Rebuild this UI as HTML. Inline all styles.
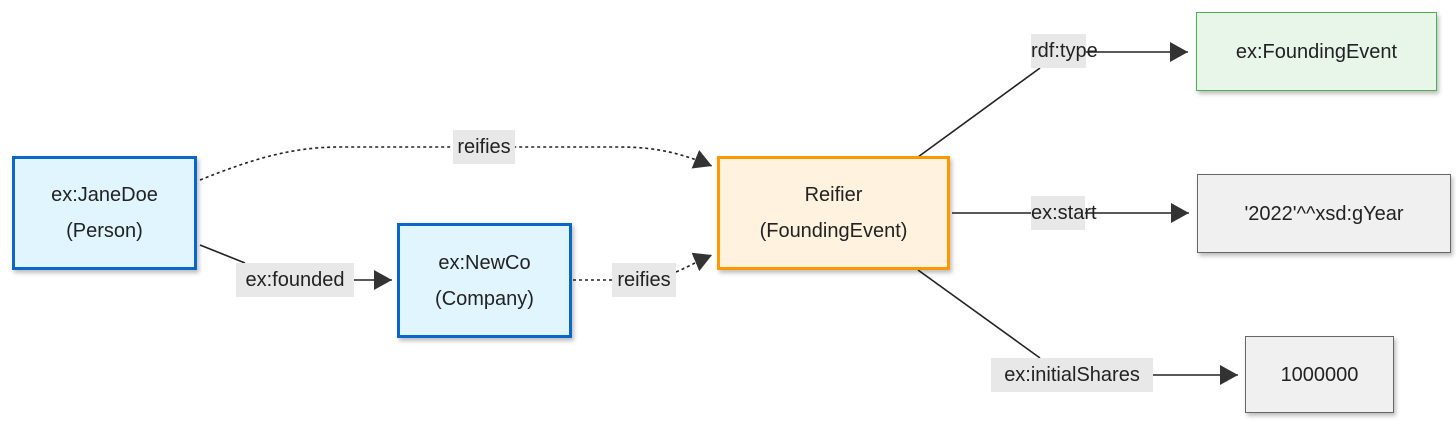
<!DOCTYPE html>
<html><head><meta charset="utf-8"><style>
html,body{margin:0;padding:0;background:#fff;}
body{width:1456px;height:427px;position:relative;overflow:hidden;font-family:"Liberation Sans",sans-serif;}
.n{position:absolute;box-sizing:border-box;display:flex;align-items:center;justify-content:center;text-align:center;font-size:20px;line-height:36px;color:#222;box-shadow:2px 3px 4px rgba(0,0,0,0.25);}
.l{position:absolute;background:#e8e8e8;font-size:20px;color:#222;height:34px;line-height:34px;text-align:center;}
svg{position:absolute;left:0;top:0;}
</style></head><body>
<svg width="1456" height="427">
<defs><marker id="a" markerWidth="10" markerHeight="10" refX="9" refY="5" orient="auto" markerUnits="userSpaceOnUse"><path d="M0,0 L10,5 L0,10z" fill="#333" transform="scale(1)"/></marker>
<marker id="b" markerWidth="20" markerHeight="20" refX="18" refY="10" orient="auto" markerUnits="userSpaceOnUse"><path d="M0,0 L18,10 L0,20z" fill="#333"/></marker></defs>
<g stroke="#222" stroke-width="1.6" fill="none">
<path d="M200,180 C250,160 290,147 340,147 L620,147 C660,147 685,155 712,166" stroke-dasharray="3,3" marker-end="url(#b)"/>
<path d="M200,245 L245,263" />
<path d="M354,280 L392,280" marker-end="url(#b)"/>
<path d="M573,280 L612,280" stroke-dasharray="3,3"/>
<path d="M676,272 C690,266 700,260 712,255" stroke-dasharray="3,3" marker-end="url(#b)"/>
<path d="M918,157 L1040,68"/>
<path d="M1085,52 L1188,52" marker-end="url(#b)"/>
<path d="M952,213 L1189,213" marker-end="url(#b)"/>
<path d="M918,270 L1040,358"/>
<path d="M1153,375 L1238,375" marker-end="url(#b)"/>
</g>
</svg>
<div class="n" style="left:12px;top:156px;width:185px;height:114px;border:3px solid #0a66c8;background:#e1f5fe;">ex:JaneDoe<br>(Person)</div>
<div class="n" style="left:397px;top:223px;width:175px;height:115px;border:3px solid #0a66c8;background:#e1f5fe;">ex:NewCo<br>(Company)</div>
<div class="n" style="left:717px;top:156px;width:233px;height:114px;border:3px solid #ff9800;background:#fff3e0;">Reifier<br>(FoundingEvent)</div>
<div class="n" style="left:1196px;top:12px;width:241px;height:79px;border:1.5px solid #4caf50;background:#e8f5e9;">ex:FoundingEvent</div>
<div class="n" style="left:1197px;top:174px;width:254px;height:79px;border:1.5px solid #666;background:#f0f0f0;">'2022'^^xsd:gYear</div>
<div class="n" style="left:1245px;top:336px;width:149px;height:77px;border:1.5px solid #666;background:#f0f0f0;">1000000</div>
<div class="l" style="left:453px;top:130px;width:62px;">reifies</div>
<div class="l" style="left:236px;top:263px;width:118px;">ex:founded</div>
<div class="l" style="left:612px;top:263px;width:64px;">reifies</div>
<div class="l" style="left:1031px;top:34px;width:55px;">rdf:type</div>
<div class="l" style="left:1031px;top:196px;width:54px;">ex:start</div>
<div class="l" style="left:991px;top:358px;width:162px;">ex:initialShares</div>
</body></html>
